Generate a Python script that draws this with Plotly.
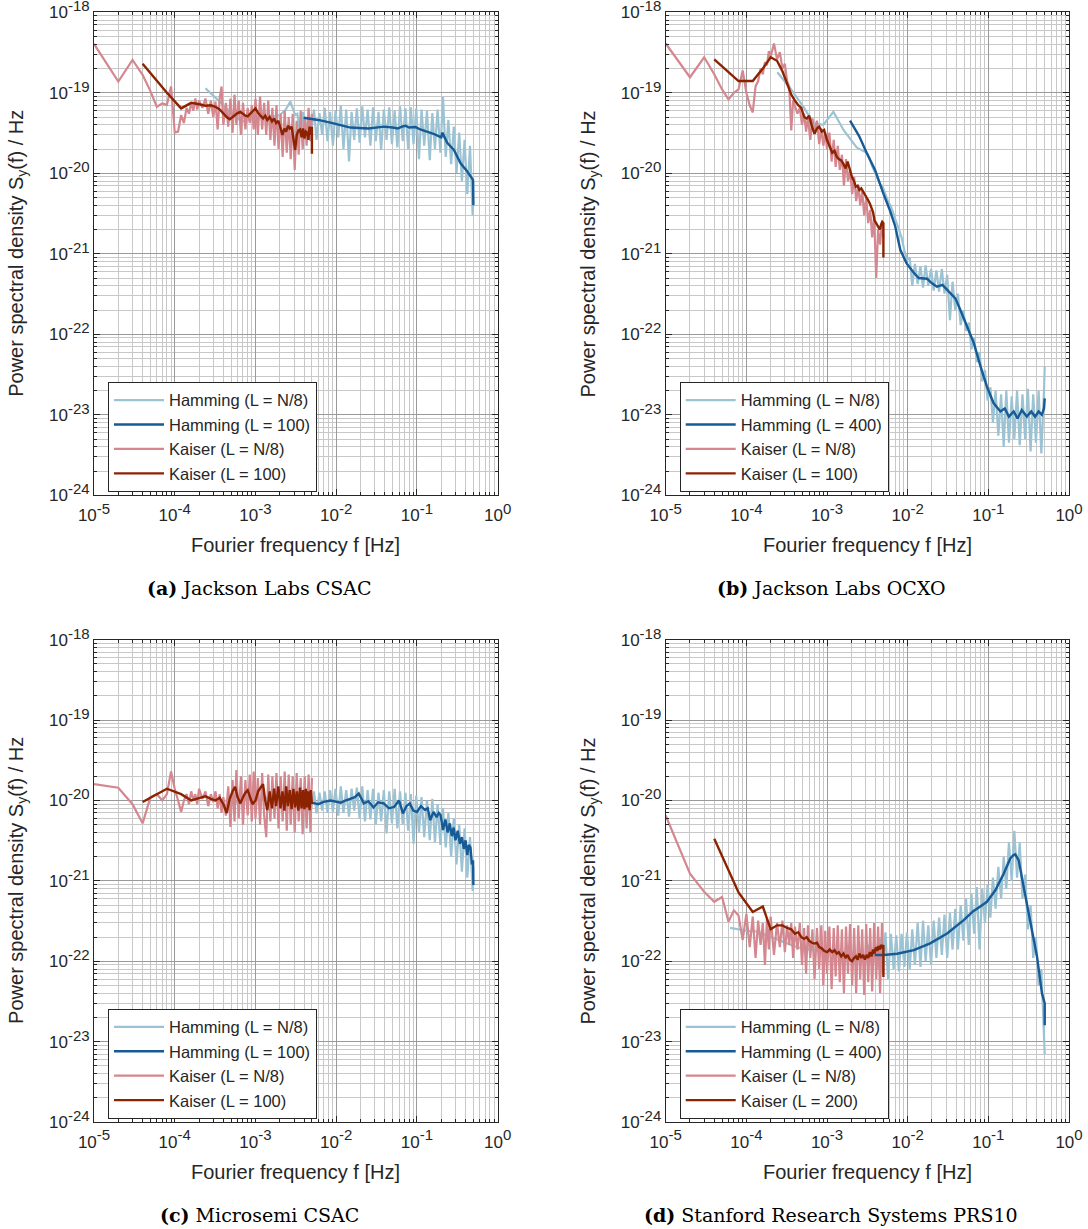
import plotly.graph_objects as go

# ---------------- shared frequency grids (Hz) ----------------
F_PINK = [1e-5, 2e-5, 3e-5, 4e-5, 5e-5, 6e-5, 7e-5, 8e-5, 9e-5, 1e-4,
          1.1e-4, 1.2e-4, 1.3e-4, 1.4e-4, 1.5e-4, 1.6e-4, 1.7e-4, 1.8e-4, 1.9e-4, 2e-4,
          2.2e-4, 2.4e-4, 2.6e-4, 2.8e-4, 3e-4, 3.2e-4, 3.4e-4, 3.6e-4, 3.8e-4, 4e-4,
          4.3e-4, 4.6e-4, 4.9e-4, 5.2e-4, 5.5e-4, 5.8e-4, 6.2e-4, 6.6e-4, 7e-4, 7.5e-4,
          8e-4, 8.5e-4, 9e-4, 9.5e-4, 1e-3, 1.07e-3, 1.14e-3, 1.21e-3, 1.28e-3, 1.36e-3,
          1.44e-3, 1.53e-3, 1.62e-3, 1.72e-3, 1.82e-3, 1.93e-3, 2.05e-3, 2.17e-3, 2.3e-3, 2.44e-3,
          2.58e-3, 2.73e-3, 2.89e-3, 3.06e-3, 3.24e-3, 3.43e-3, 3.63e-3, 3.84e-3, 4.07e-3, 4.3e-3,
          4.55e-3, 4.8e-3, 5e-3]

F_RED = [4e-5, 8e-5, 1.2e-4, 1.6e-4, 2e-4, 2.4e-4, 2.8e-4, 3.2e-4, 3.6e-4, 4e-4,
         4.4e-4, 4.8e-4, 5.2e-4, 5.6e-4, 6e-4, 6.5e-4, 7e-4, 7.5e-4, 8e-4, 8.6e-4,
         9.2e-4, 1e-3, 1.08e-3, 1.16e-3, 1.24e-3, 1.32e-3, 1.4e-3, 1.5e-3, 1.6e-3, 1.7e-3,
         1.8e-3, 1.92e-3, 2.04e-3, 2.16e-3, 2.28e-3, 2.4e-3, 2.52e-3, 2.66e-3, 2.8e-3, 2.95e-3,
         3.1e-3, 3.25e-3, 3.4e-3, 3.56e-3, 3.72e-3, 3.88e-3, 4.04e-3, 4.2e-3, 4.36e-3, 4.52e-3,
         4.68e-3, 4.84e-3, 5e-3, 5e-3]

F_BLUE_HI = [3.3e-3, 3.6e-3, 3.9e-3, 4.2e-3, 4.5e-3, 4.9e-3, 5.3e-3, 5.7e-3, 6.2e-3, 6.7e-3,
             7.2e-3, 7.8e-3, 8.4e-3, 9.1e-3, 9.8e-3, 0.0106, 0.0114, 0.0123, 0.0133, 0.0144,
             0.0155, 0.0167, 0.018, 0.0195, 0.021, 0.0227, 0.0245, 0.0265, 0.0286, 0.0309,
             0.0334, 0.036, 0.0389, 0.042, 0.0454, 0.049, 0.0529, 0.0572, 0.0617, 0.0667,
             0.072, 0.0778, 0.084, 0.0907, 0.098, 0.106, 0.114, 0.123, 0.133, 0.144,
             0.155, 0.167, 0.18, 0.195, 0.21, 0.227, 0.245, 0.265, 0.286, 0.309,
             0.334, 0.36, 0.389, 0.42, 0.454, 0.49, 0.5]

# ---------------- (a) Jackson Labs CSAC ----------------
A_HAM8_LO_F = [2.4e-4, 3e-4, 3.8e-4, 5e-4, 6.8e-4, 1e-3, 1.5e-3, 2e-3, 2.35e-3, 2.7e-3, 3.1e-3]
A_HAM8_LO_S = [1.14e-19, 9.2e-20, 7.4e-20, 5.5e-20, 4.4e-20, 4.8e-20, 5e-20, 5.3e-20, 6.1e-20, 7.8e-20, 5.3e-20]
A_HAM8_HI_S = [5.5e-20, 3e-20, 5.8e-20, 2.8e-20, 5.2e-20, 3.2e-20, 6.2e-20, 2.6e-20, 5.6e-20, 3e-20,
               6.5e-20, 2.5e-20, 5.8e-20, 2.2e-20, 6e-20, 2.8e-20, 7e-20, 2e-20, 6.2e-20, 1.4e-20,
               5.8e-20, 2.6e-20, 6.4e-20, 2.4e-20, 6.8e-20, 2.8e-20, 6.2e-20, 2.2e-20, 6.6e-20, 2.5e-20,
               5.8e-20, 1.95e-20, 6.2e-20, 2.6e-20, 6.6e-20, 2.3e-20, 6e-20, 2.1e-20, 6.8e-20, 2.5e-20,
               6.4e-20, 2e-20, 6.6e-20, 2.3e-20, 6.4e-20, 1.5e-20, 6.2e-20, 2.2e-20, 6e-20, 1.45e-20,
               5.6e-20, 2e-20, 6.2e-20, 1.8e-20, 8.9e-20, 1.6e-20, 4.6e-20, 1.3e-20, 3.8e-20, 1e-20,
               3.2e-20, 8e-21, 2.6e-20, 5.5e-21, 2.2e-20, 3e-21, 8e-21]
A_HAM_F = [3.95e-3, 6e-3, 9e-3, 0.015, 0.025, 0.039, 0.05, 0.058, 0.065, 0.072, 0.08, 0.096,
           0.11, 0.134, 0.16, 0.185, 0.2, 0.206, 0.237, 0.287, 0.347, 0.42, 0.494, 0.5]
A_HAM_S = [4.9e-20, 4.6e-20, 4.2e-20, 3.7e-20, 3.6e-20, 3.8e-20, 3.7e-20, 3.6e-20, 3.8e-20, 3.9e-20, 3.7e-20, 3.75e-20,
           3.5e-20, 3.3e-20, 3.1e-20, 2.9e-20, 2.8e-20, 3.2e-20, 2.4e-20, 1.95e-20, 1.33e-20, 1.05e-20, 8.3e-21, 4.0e-21]
A_KAI8_S = [4.05e-19, 1.38e-19, 2.56e-19, 1.67e-19, 1.05e-19, 6.7e-20, 7.4e-20, 7.1e-20, 1.2e-19, 3.2e-20,
            3.3e-20, 5.3e-20, 4.2e-20, 6.5e-20, 5.5e-20, 7.5e-20, 6e-20, 8.5e-20, 6.2e-20, 8e-20,
            6.5e-20, 8.5e-20, 5.5e-20, 8e-20, 5e-20, 7.8e-20, 3.5e-20, 8.5e-20, 1.2e-19, 4e-20,
            7.5e-20, 3.8e-20, 8.5e-20, 3.2e-20, 9.5e-20, 4e-20, 8e-20, 3e-20, 7.5e-20, 3.5e-20,
            6.5e-20, 4.2e-20, 7e-20, 3.5e-20, 8.5e-20, 3e-20, 9e-20, 3.5e-20, 7.5e-20, 3e-20,
            8e-20, 2.6e-20, 6.5e-20, 2.2e-20, 7e-20, 2e-20, 5.5e-20, 1.6e-20, 6e-20, 1.8e-20,
            5e-20, 1.5e-20, 5.5e-20, 1.1e-20, 4.5e-20, 1.7e-20, 6e-20, 2e-20, 5e-20, 2.2e-20,
            6.5e-20, 2.5e-20, 5.5e-20]
A_KAI_S = [2.3e-19, 1.0e-19, 6.4e-20, 7.5e-20, 7.2e-20, 6.9e-20, 7e-20, 6.7e-20, 6.2e-20, 5.5e-20,
           5e-20, 4.7e-20, 5e-20, 5.4e-20, 5.6e-20, 5.8e-20, 5.5e-20, 5.2e-20, 5.1e-20, 5.5e-20,
           6e-20, 6.4e-20, 5.6e-20, 5.1e-20, 4.8e-20, 5.2e-20, 4.6e-20, 5e-20, 4.4e-20, 4.8e-20,
           4.2e-20, 4.5e-20, 3.6e-20, 3e-20, 3.6e-20, 3.3e-20, 3.9e-20, 3.6e-20, 3.8e-20, 2.6e-20,
           1.95e-20, 3e-20, 3.4e-20, 3.5e-20, 2.8e-20, 3.6e-20, 2.7e-20, 3.3e-20, 3.2e-20, 2.6e-20,
           3.8e-20, 3e-20, 3.8e-20, 1.75e-20]

# ---------------- (b) Jackson Labs OCXO ----------------
B_HAM8_LO_F = [2.42e-4, 3.5e-4, 5.1e-4, 6.8e-4, 9e-4, 1.2e-3, 1.6e-3, 2.33e-3, 3.1e-3]
B_HAM8_LO_S = [1.8e-19, 1.14e-19, 6.7e-20, 4.2e-20, 4e-20, 5.8e-20, 3.45e-20, 2.1e-20, 1.8e-20]
B_HAM8_HI_S = [1.6e-20, 1.25e-20, 1.05e-20, 9e-21, 7.5e-21, 6.8e-21, 5.5e-21, 4.5e-21, 3.9e-21, 3e-21,
               2.5e-21, 2e-21, 1.6e-21, 1.1e-21, 8.4e-22, 9e-22, 4e-22, 7.5e-22, 4.2e-22, 7e-22,
               3.8e-22, 7.2e-22, 4e-22, 6.5e-22, 3.5e-22, 6.2e-22, 3.4e-22, 6.5e-22, 3.2e-22, 5.5e-22,
               1.5e-22, 4.5e-22, 2e-22, 3.2e-22, 1.3e-22, 2e-22, 1.1e-22, 1.4e-22, 6.5e-23, 9e-23,
               4.5e-23, 6e-23, 2.6e-23, 3.6e-23, 1.5e-23, 2.2e-23, 8e-24, 2e-23, 5.5e-24, 1.8e-23,
               4e-24, 2e-23, 4.5e-24, 1.7e-23, 5e-24, 2e-23, 4.2e-24, 1.8e-23, 5e-24, 2.1e-23,
               3.5e-24, 1.8e-23, 4.5e-24, 2e-23, 3.3e-24, 2e-23, 4e-23]
B_HAM_F = [1.93e-3, 2.5e-3, 3.1e-3, 3.94e-3, 5e-3, 6e-3, 7e-3, 8.1e-3, 9.7e-3, 0.0119,
           0.0137, 0.0155, 0.0174, 0.02, 0.0231, 0.027, 0.0323, 0.039, 0.045, 0.054,
           0.066, 0.08, 0.096, 0.116, 0.141, 0.16, 0.18, 0.206, 0.23, 0.26,
           0.3, 0.34, 0.38, 0.42, 0.46, 0.49, 0.5]
B_HAM_S = [4.5e-20, 2.9e-20, 1.8e-20, 1.1e-20, 5.6e-21, 3.5e-21, 2.2e-21, 1.12e-21, 7.6e-22, 5.8e-22,
           5e-22, 4.9e-22, 4.9e-22, 4.3e-22, 3.9e-22, 4.1e-22, 3.4e-22, 2.8e-22, 2e-22, 1.3e-22,
           7.8e-23, 4e-23, 2.24e-23, 1.4e-23, 1.1e-23, 1.2e-23, 9.5e-24, 1.1e-23, 9e-24, 1.15e-23,
           9.5e-24, 1.1e-23, 9.5e-24, 1.1e-23, 1e-23, 1.2e-23, 1.6e-23]
B_KAI8_S = [4.1e-19, 1.56e-19, 2.76e-19, 1.7e-19, 1.1e-19, 8.3e-20, 1e-19, 1.1e-19, 1.9e-19, 1e-19,
            7e-20, 5.7e-20, 1.2e-19, 1.4e-19, 2e-19, 1.7e-19, 2.4e-19, 2.2e-19, 3.3e-19, 2.8e-19,
            4.1e-19, 2.6e-19, 3.2e-19, 2e-19, 2.3e-19, 1.4e-19, 1.2e-19, 3.4e-20, 8e-20, 7e-20,
            5.5e-20, 6.5e-20, 4e-20, 5.5e-20, 3.3e-20, 5e-20, 2.6e-20, 4.8e-20, 3.2e-20, 4.5e-20,
            2.3e-20, 3.6e-20, 2.2e-20, 3.2e-20, 2e-20, 3.2e-20, 1.4e-20, 2.6e-20, 1.2e-20, 2.2e-20,
            1.1e-20, 1.7e-20, 7e-21, 1.5e-20, 8e-21, 1.1e-20, 5.5e-21, 9e-21, 4.5e-21, 7e-21,
            4e-21, 6e-21, 3e-21, 5e-21, 2.4e-21, 3.5e-21, 1.6e-21, 3e-21, 5e-22, 2e-21,
            1.3e-21, 2.5e-21, 1.6e-21]
B_KAI_S = [2.6e-19, 1.4e-19, 1.4e-19, 2e-19, 2.76e-19, 2.5e-19, 1.85e-19, 1.3e-19, 9.5e-20, 8e-20,
           7e-20, 6.5e-20, 5e-20, 4.8e-20, 5.2e-20, 3.8e-20, 3.1e-20, 3.6e-20, 3.8e-20, 3.3e-20,
           3.45e-20, 2.6e-20, 2.2e-20, 1.8e-20, 1.9e-20, 1.6e-20, 1.5e-20, 1.45e-20, 1.3e-20, 1.15e-20,
           1.4e-20, 1.1e-20, 9e-21, 8e-21, 6.8e-21, 7e-21, 6.2e-21, 6.5e-21, 6e-21, 5.5e-21,
           5e-21, 4.6e-21, 4.2e-21, 3.8e-21, 3.3e-21, 2.6e-21, 2.4e-21, 2.3e-21, 2.1e-21, 2e-21,
           2.3e-21, 2.5e-21, 2.4e-21, 9e-22]

# ---------------- (c) Microsemi CSAC ----------------
C_HAM8_LO_F = [2.4e-4, 4e-4, 6e-4, 8e-4, 1e-3, 1.5e-3, 2e-3, 2.5e-3, 3e-3]
C_HAM8_LO_S = [1.1e-20, 1e-20, 9.5e-21, 1.05e-20, 1e-20, 1.1e-20, 9.5e-21, 1e-20, 1.05e-20]
C_HAM8_HI_S = [1.1e-20, 9e-21, 1.2e-20, 8.5e-21, 1.15e-20, 8e-21, 1.3e-20, 6.9e-21, 1.25e-20, 7.5e-21,
               1.3e-20, 7e-21, 1.35e-20, 7.2e-21, 1.4e-20, 6.5e-21, 1.5e-20, 7e-21, 1.35e-20, 6.3e-21,
               1.4e-20, 7.5e-21, 1.45e-20, 6e-21, 1.5e-20, 5.5e-21, 1.35e-20, 5.8e-21, 1.4e-20, 5e-21,
               1.25e-20, 5.5e-21, 1.35e-20, 3.9e-21, 1.3e-20, 5.2e-21, 1.4e-20, 4.5e-21, 1.3e-20, 5e-21,
               1.25e-20, 4.2e-21, 1.2e-20, 2.9e-21, 1.15e-20, 4e-21, 1.1e-20, 3.5e-21, 1e-20, 3.2e-21,
               1.05e-20, 3e-21, 9e-21, 2.8e-21, 8e-21, 2.6e-21, 7e-21, 2e-21, 6e-21, 1.6e-21,
               5e-21, 1.3e-21, 4.5e-21, 1.1e-21, 3.5e-21, 7.5e-22, 1.5e-21]
C_HAM_F = [4.15e-3, 5e-3, 6e-3, 7e-3, 8.5e-3, 0.01, 0.0114, 0.013, 0.015, 0.017,
           0.019, 0.022, 0.025, 0.029, 0.033, 0.0387, 0.045, 0.052, 0.06, 0.067,
           0.074, 0.0815, 0.09, 0.1, 0.112, 0.126, 0.136, 0.146, 0.16, 0.175,
           0.186, 0.196, 0.21, 0.225, 0.24, 0.255, 0.27, 0.285, 0.3, 0.32,
           0.34, 0.36, 0.38, 0.4, 0.42, 0.44, 0.46, 0.48, 0.495, 0.5]
C_HAM_S = [9.2e-21, 9.4e-21, 9e-21, 9.6e-21, 1e-20, 9.6e-21, 9.4e-21, 1e-20, 1.05e-20, 1.1e-20,
           1.22e-20, 9.2e-21, 9.8e-21, 8.2e-21, 9.5e-21, 9.2e-21, 8e-21, 8.3e-21, 1e-20, 6.9e-21,
           8.5e-21, 9.2e-21, 7.5e-21, 7.2e-21, 8.5e-21, 7.6e-21, 8e-21, 5.7e-21, 7.2e-21, 6.2e-21,
           7e-21, 6.6e-21, 4.3e-21, 5.8e-21, 4e-21, 5.2e-21, 3.6e-21, 4.6e-21, 3.2e-21, 4.2e-21,
           2.9e-21, 3.5e-21, 2.5e-21, 3.2e-21, 2.1e-21, 2.8e-21, 2.6e-21, 1.6e-21, 1.8e-21, 8.9e-22]
C_KAI8_S = [1.6e-20, 1.44e-20, 9e-21, 5.2e-21, 1.1e-20, 1.2e-20, 1e-20, 1.2e-20, 2.3e-20, 1.4e-20,
            1e-20, 7.2e-21, 1e-20, 1.2e-20, 9e-21, 1.3e-20, 1e-20, 1.2e-20, 9e-21, 1.4e-20,
            1.05e-20, 1.3e-20, 8.5e-21, 1.2e-20, 9.5e-21, 1.3e-20, 8e-21, 1.2e-20, 7e-21, 1.1e-20,
            6.5e-21, 1.5e-20, 4.7e-21, 1.8e-20, 5.5e-21, 2.4e-20, 6e-21, 2e-20, 5e-21, 1.8e-20,
            6.5e-21, 2.1e-20, 5.5e-21, 2.3e-20, 6e-21, 1.9e-20, 5e-21, 2.2e-20, 6.5e-21, 3.5e-21,
            2.1e-20, 5.5e-21, 2e-20, 6e-21, 2.2e-20, 4.5e-21, 2e-20, 5.5e-21, 2.3e-20, 4.2e-21,
            2.1e-20, 5e-21, 2e-20, 4e-21, 2.2e-20, 5.5e-21, 1.9e-20, 3.8e-21, 2e-20, 4.5e-21,
            2.1e-20, 4e-21, 1.9e-20]
C_KAI_S = [9.6e-21, 1.4e-20, 1.2e-20, 1e-20, 1.07e-20, 1.13e-20, 1.05e-20, 1e-20, 1.08e-20, 9e-21,
           7e-21, 1.05e-20, 1.3e-20, 1.48e-20, 1.1e-20, 9.2e-21, 1.1e-20, 1.25e-20, 1.34e-20, 1.1e-20,
           9e-21, 1e-20, 1.3e-20, 1.45e-20, 1.6e-20, 1e-20, 7.6e-21, 1.3e-20, 8e-21, 1.4e-20,
           8.5e-21, 1.5e-20, 8e-21, 1.3e-20, 7.5e-21, 1.5e-20, 8.5e-21, 1.35e-20, 7.8e-21, 1.4e-20,
           8.2e-21, 1.3e-20, 7.5e-21, 1.45e-20, 8e-21, 1.35e-20, 7.8e-21, 1.4e-20, 8.2e-21, 1.3e-20,
           7.6e-21, 1.35e-20, 1e-20, 9e-21]

# ---------------- (d) Stanford Research Systems PRS10 ----------------
D_HAM8_LO_F = [6.3e-5, 1e-4, 1.35e-4, 2e-4, 3e-4, 4.2e-4, 6e-4, 1e-3, 1.5e-3, 2e-3, 2.5e-3, 3e-3]
D_HAM8_LO_S = [2.6e-22, 2.4e-22, 2.35e-22, 2e-22, 1.7e-22, 1.5e-22, 1.4e-22, 1.3e-22, 1.25e-22, 1.2e-22, 1.2e-22, 1.2e-22]
D_HAM8_HI_S = [1.6e-22, 9e-23, 1.7e-22, 8e-23, 2e-22, 7e-23, 2.3e-22, 6e-23, 2.2e-22, 8e-23,
               2.1e-22, 7.5e-23, 2.2e-22, 8.5e-23, 2.3e-22, 8e-23, 2.5e-22, 9e-23, 3e-22, 8.5e-23,
               3.2e-22, 1e-22, 2.8e-22, 9e-23, 3.2e-22, 1.1e-22, 3.5e-22, 1.2e-22, 3.8e-22, 1.1e-22,
               4e-22, 1.4e-22, 4.5e-22, 1.4e-22, 5e-22, 1.8e-22, 6e-22, 1.6e-22, 7e-22, 2.2e-22,
               8.4e-22, 1.4e-22, 8e-22, 3e-22, 9e-22, 3.5e-22, 1.1e-21, 4.5e-22, 1.5e-21, 6e-22,
               2e-21, 8e-22, 3e-21, 1e-21, 4.2e-21, 1.1e-21, 3e-21, 6e-22, 1.2e-21, 2.5e-22,
               5e-22, 1.1e-22, 2e-22, 5e-23, 8e-23, 1.5e-23, 7e-24]
D_HAM_F = [3.9e-3, 5e-3, 7.4e-3, 0.0119, 0.019, 0.0308, 0.0495, 0.065, 0.0795, 0.096,
           0.122, 0.155, 0.187, 0.205, 0.216, 0.238, 0.274, 0.332, 0.401, 0.462, 0.5, 0.5]
D_HAM_S = [1.2e-22, 1.2e-22, 1.24e-22, 1.38e-22, 1.67e-22, 2.22e-22, 3.25e-22, 4.2e-22, 4.8e-22, 5.5e-22,
           7.65e-22, 1.23e-21, 1.9e-21, 2.1e-21, 2.14e-21, 1.8e-21, 8.4e-22, 3.25e-22, 1.15e-22, 4e-23, 3e-23, 1.6e-23]
D_KAI8_S = [6.5e-21, 1.23e-21, 7.3e-22, 5.5e-22, 6.3e-22, 3.1e-22, 4.3e-22, 3.7e-22, 1.84e-22, 3.9e-22,
            1.5e-22, 3.6e-22, 1.1e-22, 3.2e-22, 1.6e-22, 3e-22, 9e-23, 3.4e-22, 1.4e-22, 3.6e-22,
            1.2e-22, 3e-22, 1.5e-22, 3.2e-22, 1.3e-22, 2.8e-22, 1.6e-22, 3e-22, 1.1e-22, 2.7e-22,
            1.4e-22, 3e-22, 9e-23, 2.6e-22, 7e-23, 2.8e-22, 1.1e-22, 2.5e-22, 6e-23, 2.6e-22,
            8e-23, 2.8e-22, 5e-23, 2.4e-22, 7e-23, 2.7e-22, 4.5e-23, 2.6e-22, 6.5e-23, 2.8e-22,
            5.5e-23, 2.5e-22, 4e-23, 2.7e-22, 7e-23, 2.9e-22, 5e-23, 2.6e-22, 4e-23, 2.8e-22,
            6e-23, 2.5e-22, 3.8e-23, 2.9e-22, 5.5e-23, 2.6e-22, 4.2e-23, 3e-22, 6e-23, 2.7e-22,
            4e-23, 3e-22, 7e-23]
D_KAI_S = [3.35e-21, 7.2e-22, 4.1e-22, 4.8e-22, 2.5e-22, 2.8e-22, 2.8e-22, 2.6e-22, 2.5e-22, 2.2e-22,
           2.3e-22, 2e-22, 1.9e-22, 2e-22, 1.8e-22, 1.7e-22, 1.66e-22, 1.7e-22, 1.5e-22, 1.45e-22,
           1.35e-22, 1.3e-22, 1.4e-22, 1.3e-22, 1.37e-22, 1.25e-22, 1.3e-22, 1.15e-22, 1.25e-22, 1.1e-22,
           1.2e-22, 1.05e-22, 1e-22, 1.1e-22, 1.15e-22, 1.05e-22, 1.25e-22, 1.1e-22, 1.2e-22, 1.05e-22,
           1.2e-22, 1.1e-22, 1.3e-22, 1.15e-22, 1.4e-22, 1.25e-22, 1.5e-22, 1.35e-22, 1.55e-22, 1.4e-22,
           1.6e-22, 1.45e-22, 1.6e-22, 6.4e-23]

# ---------------- labels ----------------
SUP = '<sup><span style="font-size:15px">%s</span></sup>'
X_TICKS = [1e-5, 1e-4, 1e-3, 1e-2, 1e-1, 1]
X_EXP = ["-5", "-4", "-3", "-2", "-1", "0"]
Y_TICKS = [1e-24, 1e-23, 1e-22, 1e-21, 1e-20, 1e-19, 1e-18]
Y_EXP = ["-24", "-23", "-22", "-21", "-20", "-19", "-18"]
X_TICKTEXT = ["10" + SUP % e for e in X_EXP]
Y_TICKTEXT = ["10" + SUP % e for e in Y_EXP]
CAPTIONS = ["<b>(a)</b> Jackson Labs CSAC", "<b>(b)</b> Jackson Labs OCXO",
            "<b>(c)</b> Microsemi CSAC", "<b>(d)</b> Stanford Research Systems PRS10"]
HAM_L = ["100", "400", "100", "400"]
KAI_L = ["100", "100", "100", "200"]

# sanity checks
for s in (A_KAI8_S, B_KAI8_S, C_KAI8_S, D_KAI8_S):
    assert len(s) == len(F_PINK), len(s)
for s in (A_KAI_S, B_KAI_S, C_KAI_S, D_KAI_S):
    assert len(s) == len(F_RED), len(s)
for s in (A_HAM8_HI_S, B_HAM8_HI_S, C_HAM8_HI_S, D_HAM8_HI_S):
    assert len(s) == len(F_BLUE_HI), len(s)
for f, s in ((A_HAM_F, A_HAM_S), (B_HAM_F, B_HAM_S), (C_HAM_F, C_HAM_S), (D_HAM_F, D_HAM_S),
             (A_HAM8_LO_F, A_HAM8_LO_S), (B_HAM8_LO_F, B_HAM8_LO_S),
             (C_HAM8_LO_F, C_HAM8_LO_S), (D_HAM8_LO_F, D_HAM8_LO_S)):
    assert len(f) == len(s), (len(f), len(s))

PANEL_DATA = [
    (A_HAM8_LO_F, A_HAM8_LO_S, A_HAM8_HI_S, A_HAM_F, A_HAM_S, A_KAI8_S, A_KAI_S),
    (B_HAM8_LO_F, B_HAM8_LO_S, B_HAM8_HI_S, B_HAM_F, B_HAM_S, B_KAI8_S, B_KAI_S),
    (C_HAM8_LO_F, C_HAM8_LO_S, C_HAM8_HI_S, C_HAM_F, C_HAM_S, C_KAI8_S, C_KAI_S),
    (D_HAM8_LO_F, D_HAM8_LO_S, D_HAM8_HI_S, D_HAM_F, D_HAM_S, D_KAI8_S, D_KAI_S),
]

# ---------------- style / layout ----------------
W, H = 1088, 1229
FONT = "Liberation Sans, Arial, sans-serif"
SERIF = "DejaVu Serif, serif"
INK = "#262626"
C_HAM8 = "#9cc3d3"
C_HAM = "#165a96"
C_KAI8 = "#d5878f"
C_KAI = "#8c2300"
GRID_MAJ = "#9a9a9a"
GRID_MIN = "#c8c8c8"

# panel pixel boxes: (left, right, top, bottom)
BOXES = [(94, 497.7, 12.3, 495.3), (665.7, 1069, 12.3, 495.3),
         (94, 497.7, 639.7, 1122.1), (665.7, 1069, 639.7, 1122.1)]

MINOR_X = [k * 10.0 ** e for e in range(-5, 0) for k in range(2, 10)]
MINOR_Y = [k * 10.0 ** e for e in range(-24, -18) for k in range(2, 10)]


def axis(ticks, text, minor_vals, rng, dom, anchor, standoff):
    return dict(type="log", range=rng, domain=dom, anchor=anchor, automargin=False,
                tickmode="array", tickvals=ticks, ticktext=text, ticklabeloverflow="allow",
                ticklabelstandoff=standoff,
                showline=True, linecolor=INK, linewidth=1, mirror="allticks",
                ticks="inside", ticklen=6, tickwidth=1, tickcolor=INK,
                showgrid=True, gridcolor=GRID_MAJ, gridwidth=1,
                zeroline=False, fixedrange=True,
                tickfont=dict(family=FONT, size=17, color=INK),
                minor=dict(tickmode="array", tickvals=minor_vals, ticks="inside", ticklen=3,
                           tickcolor=INK, showgrid=True, gridcolor=GRID_MIN, gridwidth=1))


fig = go.Figure()
layout = dict(width=W, height=H, margin=dict(l=0, r=0, t=0, b=0, autoexpand=False),
              paper_bgcolor="white", plot_bgcolor="white", showlegend=True,
              font=dict(family=FONT, color=INK))
annotations = []

for i, (lof, los, his, hf, hs, k8s, ks) in enumerate(PANEL_DATA):
    n = "" if i == 0 else str(i + 1)
    xa, ya = "x" + n, "y" + n
    lg = "legend" + n
    left, right, top, bottom = BOXES[i]
    xdom = [left / W, right / W]
    ydom = [1 - bottom / H, 1 - top / H]
    layout["xaxis" + n] = axis(X_TICKS, X_TICKTEXT, MINOR_X, [-5, 0], xdom, ya, 4)
    layout["yaxis" + n] = axis(Y_TICKS, Y_TICKTEXT, MINOR_Y, [-24, -18], ydom, xa, 0)

    fig.add_trace(go.Scatter(x=lof + F_BLUE_HI, y=los + his, mode="lines", name="Hamming (L = N/8)",
                             line=dict(color=C_HAM8, width=2.2), xaxis=xa, yaxis=ya, legend=lg,
                             legendrank=1))
    fig.add_trace(go.Scatter(x=F_PINK, y=k8s, mode="lines", name="Kaiser (L = N/8)",
                             line=dict(color=C_KAI8, width=2.2), xaxis=xa, yaxis=ya, legend=lg,
                             legendrank=3))
    fig.add_trace(go.Scatter(x=hf, y=hs, mode="lines", name="Hamming (L = %s)" % HAM_L[i],
                             line=dict(color=C_HAM, width=2.4), xaxis=xa, yaxis=ya, legend=lg,
                             legendrank=2))
    fig.add_trace(go.Scatter(x=F_RED, y=ks, mode="lines", name="Kaiser (L = %s)" % KAI_L[i],
                             line=dict(color=C_KAI, width=2.4), xaxis=xa, yaxis=ya, legend=lg,
                             legendrank=4))

    layout[lg] = dict(x=(left + 14) / W, y=1 - (bottom - 58.5) / H, xanchor="left", yanchor="middle",
                      bgcolor="white", bordercolor=INK, borderwidth=1, itemwidth=50,
                      font=dict(family=FONT, size=16.5, color=INK), tracegroupgap=0)

    cx = (left + right) / 2
    annotations.append(dict(text="Fourier frequency f [Hz]", xref="paper", yref="paper",
                            x=cx / W, y=1 - (bottom + 50) / H, xanchor="center", yanchor="middle",
                            showarrow=False, font=dict(family=FONT, size=20, color=INK)))
    annotations.append(dict(text="Power spectral density S<sub>y</sub>(f) / Hz", xref="paper", yref="paper",
                            x=(left - 76) / W, y=1 - (top + bottom) / 2 / H, xanchor="center",
                            yanchor="middle", textangle=-90, showarrow=False,
                            font=dict(family=FONT, size=20, color=INK)))
    capx = 259 if i % 2 == 0 else 831
    annotations.append(dict(text=CAPTIONS[i], xref="paper", yref="paper",
                            x=capx / W, y=1 - (bottom + 93) / H, xanchor="center", yanchor="middle",
                            showarrow=False, font=dict(family=SERIF, size=19, color="black")))

layout["annotations"] = annotations
fig.update_layout(**layout)
fig.write_html("out.html", config={"displayModeBar": False},
               post_script="document.body.style.margin='0';document.body.style.overflow='hidden';")
